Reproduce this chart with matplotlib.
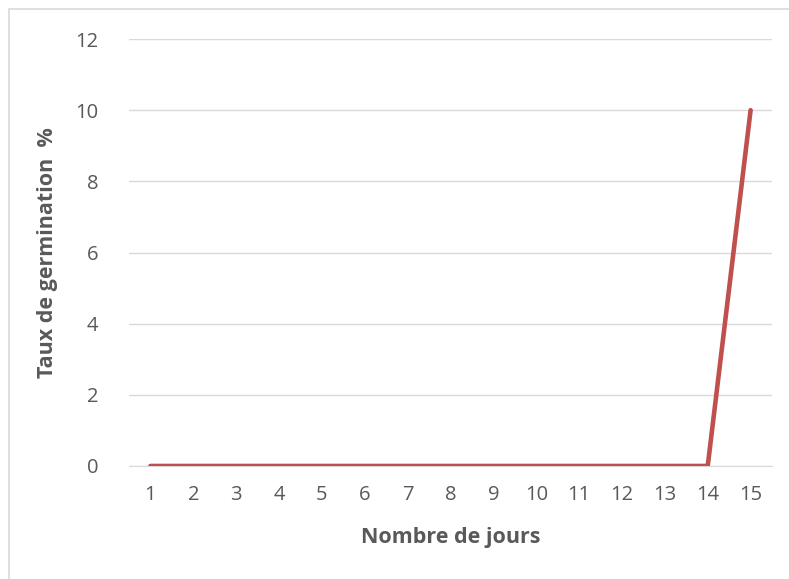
import matplotlib.pyplot as plt
from matplotlib.patches import Rectangle

jours = list(range(1, 16))
taux = [0, 0, 0, 0, 0, 0, 0, 0, 0, 0, 0, 0, 0, 0, 10]
yticks = [0, 2, 4, 6, 8, 10, 12]

gris = '#595959'
plt.rcParams['font.family'] = ['Open Sans', 'DejaVu Sans']

fig = plt.figure(figsize=(7.89, 5.79), dpi=100)
ax = fig.add_axes([0.1635, 0.1952, 0.8150, 0.7374])

# cadre du graphique
fig.patches.append(Rectangle((9 / 789, -0.1), 1.2, 1 - 9 / 579 + 0.1,
                             transform=fig.transFigure, fill=False,
                             edgecolor='#D9D9D9', linewidth=1.2))

ax.plot(jours, taux, color='#C0504D', linewidth=3.3, solid_capstyle='round', zorder=3)

ax.set_xlim(0.5, 15.5)
ax.set_ylim(0, 12)
ax.set_xticks(jours)
ax.set_yticks(yticks)
ax.grid(axis='y', color='#D9D9D9', linewidth=1)
ax.set_axisbelow(True)
for s in ['top', 'right', 'left']:
    ax.spines[s].set_visible(False)
ax.spines['bottom'].set_color('#D9D9D9')
ax.tick_params(length=0, labelsize=14.5, colors=gris)
ax.tick_params(axis='x', pad=14)
ax.tick_params(axis='y', pad=22)

ax.set_xlabel('Nombre de jours', fontsize=15.5, fontweight='bold', color=gris, va='center')
ax.set_ylabel('Taux de germination  %', fontsize=15.5, fontweight='bold', color=gris, va='center')
ax.xaxis.set_label_coords(0.5, -0.1686)
ax.yaxis.set_label_coords(-0.1275, 0.5)

fig.savefig('out.png', dpi=100)
